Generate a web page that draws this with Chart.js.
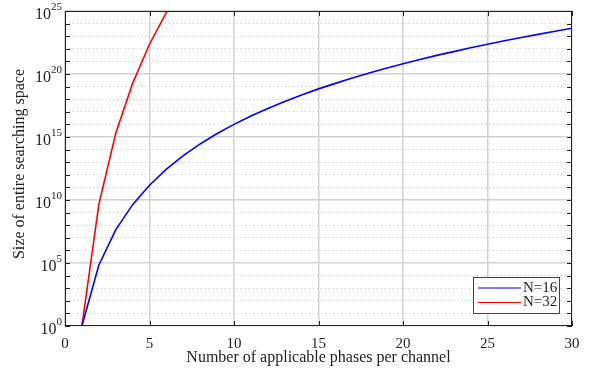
<!DOCTYPE html>
<html>
<head>
<meta charset="utf-8">
<script src="https://cdn.jsdelivr.net/npm/chart.js@4/dist/chart.umd.min.js"></script>
<style>
  html, body { margin: 0; padding: 0; background: #fff; }
  #wrap { width: 589px; height: 373px; }
</style>
</head>
<body>
<div id="wrap"><canvas id="c"></canvas></div>
<script>
// values
const phases = [1, 2, 3, 4, 5, 6, 7, 8, 9, 10, 11, 12, 13, 14, 15, 16, 17, 18, 19, 20, 21, 22, 23, 24, 25, 26, 27, 28, 29, 30];
const n16 = [1, 6.6e4, 4.3e7, 4.3e9, 1.5e11, 2.8e12, 3.3e13, 2.8e14, 1.9e15, 1e16, 4.6e16, 1.8e17, 6.7e17, 2.2e18, 6.6e18,
             1.8e19, 4.9e19, 1.2e20, 2.9e20, 6.6e20, 1.4e21, 3e21, 6e21, 1.2e22, 2.3e22, 4.4e22, 8e22, 1.4e23, 2.5e23, 4.3e23];
const n32 = [1, 4.3e9, 1.9e15, 1.8e19, 2.3e22, 7.9e24, 1.1e27, 7.9e28];
const seriesNames = ['N=16', 'N=32'];
const seriesColors = ['#0000ff', '#ff0000'];
const xTicks = [0, 5, 10, 15, 20, 25, 30];
const yExponents = [0, 5, 10, 15, 20, 25];
const xTitle = 'Number of applicable phases per channel';
const yTitle = 'Size of entire searching space';

const FONT = '"Liberation Serif", "Times New Roman", serif';
const decades = Array.from({ length: 26 }, (_, i) => i);

const boxPlugin = {
  id: 'box',
  afterDraw(chart) {
    const { ctx, chartArea: a, scales: { x, y } } = chart;
    ctx.save();
    // axes box
    ctx.strokeStyle = '#222';
    ctx.lineWidth = 1;
    ctx.strokeRect(a.left + 0.5, a.top + 0.5, a.right - a.left - 1, a.bottom - a.top - 1);
    // inward ticks
    ctx.beginPath();
    xTicks.forEach(v => {
      const px = Math.round(x.getPixelForValue(v)) + 0.5;
      ctx.moveTo(px, a.bottom); ctx.lineTo(px, a.bottom - 5);
      ctx.moveTo(px, a.top); ctx.lineTo(px, a.top + 5);
    });
    decades.forEach(e => {
      const py = Math.round(y.getPixelForValue(Math.pow(10, e))) + 0.5;
      ctx.moveTo(a.left, py); ctx.lineTo(a.left + 5, py);
      ctx.moveTo(a.right, py); ctx.lineTo(a.right - 5, py);
    });
    ctx.stroke();

    // y tick labels with superscripts
    ctx.fillStyle = '#222';
    ctx.textBaseline = 'middle';
    ctx.textAlign = 'right';
    yExponents.forEach(e => {
      const py = y.getPixelForValue(Math.pow(10, e));
      ctx.font = '11px ' + FONT;
      const ew = ctx.measureText(String(e)).width;
      ctx.fillText(String(e), 62, py - 4);
      ctx.font = '16px ' + FONT;
      ctx.fillText('10', 62 - ew, py + 4);
    });

    // axis titles
    ctx.font = '16px ' + FONT;
    ctx.textAlign = 'center';
    ctx.fillText(xTitle, (a.left + a.right) / 2, 358);
    ctx.save();
    ctx.translate(20, 164);
    ctx.rotate(-Math.PI / 2);
    ctx.fillText(yTitle, 0, 0);
    ctx.restore();

    // legend
    ctx.fillStyle = '#fff';
    ctx.fillRect(473, 277, 86, 36);
    ctx.strokeStyle = '#444';
    ctx.strokeRect(473.5, 277.5, 86, 36);
    ctx.font = '15px ' + FONT;
    ctx.textAlign = 'left';
    seriesNames.forEach((name, i) => {
      const ly = 288 + i * 14.5;
      ctx.strokeStyle = seriesColors[i];
      ctx.lineWidth = 1.2;
      ctx.beginPath();
      ctx.moveTo(478, ly); ctx.lineTo(521, ly);
      ctx.stroke();
      ctx.fillStyle = '#222';
      ctx.fillText(name, 523, ly);
    });
    ctx.restore();
  }
};

new Chart(document.getElementById('c'), {
  type: 'line',
  data: {
    datasets: [
      {
        label: seriesNames[0],
        data: n16.map((v, i) => ({ x: phases[i], y: v })),
        borderColor: seriesColors[0],
        borderWidth: 1.6,
        pointRadius: 0,
        tension: 0
      },
      {
        label: seriesNames[1],
        data: n32.map((v, i) => ({ x: phases[i], y: v })),
        borderColor: seriesColors[1],
        borderWidth: 1.6,
        pointRadius: 0,
        tension: 0
      }
    ]
  },
  options: {
    responsive: true,
    maintainAspectRatio: false,
    animation: false,
    layout: { padding: { left: 0, right: 17, top: 11, bottom: 0 } },
    plugins: { legend: { display: false }, tooltip: { enabled: false } },
    scales: {
      x: {
        type: 'linear',
        min: 0,
        max: 30,
        afterBuildTicks: s => { s.ticks = xTicks.map(v => ({ value: v })); },
        afterFit: s => { s.height = 47; },
        grid: { color: '#d2d2d2', lineWidth: 1.5, drawTicks: false },
        border: { display: false },
        ticks: { padding: 9, color: '#222', font: { family: FONT, size: 15 } }
      },
      y: {
        type: 'logarithmic',
        min: 1,
        max: 1e25,
        afterBuildTicks: s => { s.ticks = decades.map(e => ({ value: Math.pow(10, e) })); },
        afterFit: s => { s.width = 65; },
        grid: {
          drawTicks: false,
          lineWidth: c => (Math.round(Math.log10(c.tick.value)) % 5 === 0 ? 1.5 : 1),
          color: c => (Math.round(Math.log10(c.tick.value)) % 5 === 0 ? '#d2d2d2' : '#c4c4c4')
        },
        border: {
          display: false,
          dash: c => {
            if (!c.tick) return [];
            return Math.round(Math.log10(c.tick.value)) % 5 === 0 ? [] : [1, 3];
          }
        },
        ticks: { display: false }
      }
    }
  },
  plugins: [boxPlugin]
});
</script>
</body>
</html>
